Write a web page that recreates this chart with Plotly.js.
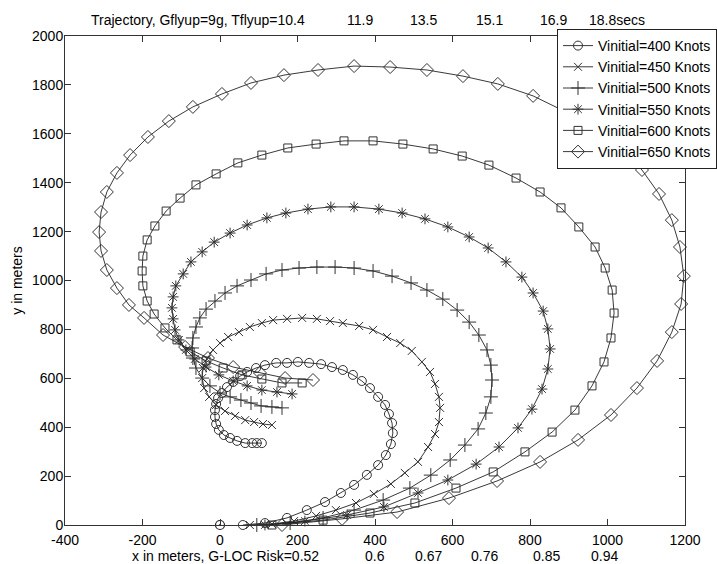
<!DOCTYPE html>
<html>
<head>
<meta charset="utf-8">
<script src="https://cdn.plot.ly/plotly-3.0.1.min.js"></script>
<style>html,body{margin:0;padding:0;background:#fff;}#chart{width:717px;height:564px;}</style>
</head>
<body>
<div id="chart"></div>
<script>
// ---- data ----
const seriesNames = ['Vinitial=400 Knots','Vinitial=450 Knots','Vinitial=500 Knots','Vinitial=550 Knots','Vinitial=600 Knots','Vinitial=650 Knots'];

const x400 = [59,116,173,224,271,312,346,379,408,428,441,446,444,436,426,408,387,366,343,317,289,261,230,201,173,145,116,93,70,52,34,18,5,-5,-10,-13,-13,-10,-3,10,26,44,65,83,95,108];
const y400 = [0,8,29,61,94,131,164,205,245,286,331,376,417,454,491,524,560,589,614,634,646,658,663,667,663,663,654,642,626,609,585,564,540,519,495,470,442,413,389,368,356,344,335,335,335,335];

const x450 = [77,134,191,248,299,351,397,441,477,511,537,555,565,568,565,555,542,521,495,465,431,395,359,317,284,250,212,173,137,108,77,49,21,0,-18,-34,-44,-46,-41,-28,-10,13,39,65,88,111,134];
const y450 = [0,4,16,37,61,90,127,168,213,258,319,372,421,479,524,577,626,667,712,744,769,798,814,826,834,843,847,843,838,826,810,789,769,744,716,679,642,601,560,524,491,466,446,429,421,413,409];

const x500 = [95,181,266,346,421,490,544,594,632,666,686,699,702,699,689,668,643,612,575,534,493,444,395,346,297,250,204,160,119,80,44,13,-13,-36,-52,-62,-70,-72,-70,-62,-46,-26,0,26,54,80,106,134,160];
const y500 = [0,8,29,61,102,151,204,266,327,393,458,524,593,654,716,777,830,879,924,961,990,1018,1039,1051,1055,1055,1051,1043,1027,1002,978,949,916,883,847,810,765,724,683,642,601,569,540,524,511,499,487,483,479];

const x550 = [116,219,328,423,511,588,661,720,769,805,831,846,852,846,834,808,779,738,692,643,588,529,470,410,346,286,227,170,121,70,26,-15,-46,-75,-95,-114,-121,-124,-121,-116,-106,-88,-65,-36,-3,34,70,108,147,186];
const y550 = [0,16,41,74,131,184,249,319,397,474,556,638,720,802,875,949,1014,1076,1133,1178,1219,1252,1276,1292,1301,1301,1292,1276,1256,1227,1194,1157,1117,1076,1027,978,933,888,843,798,757,716,679,646,614,589,569,552,544,536];

const x600 = [134,266,387,503,609,705,787,857,916,960,991,1009,1017,1012,994,968,926,880,826,764,694,625,550,472,395,320,248,175,108,46,-10,-62,-103,-139,-168,-188,-199,-201,-199,-188,-170,-142,-111,-77,-36,8,57,108,160,212];
const y600 = [0,20,49,90,151,217,299,380,470,569,667,765,867,961,1051,1137,1219,1297,1362,1419,1472,1509,1538,1558,1571,1571,1558,1542,1513,1481,1436,1391,1337,1284,1223,1166,1100,1039,978,916,863,806,757,708,671,642,614,597,581,581];

const x650 = [160,315,457,591,715,826,924,1009,1076,1128,1166,1190,1197,1187,1166,1133,1089,1030,963,888,808,717,627,534,439,346,253,165,80,5,-70,-132,-186,-232,-266,-292,-307,-312,-307,-292,-266,-235,-196,-147,-90,-31,34,103,168,240];
const y650 = [0,25,53,110,180,258,348,450,560,671,789,904,1018,1137,1247,1354,1452,1542,1624,1693,1755,1804,1836,1861,1873,1877,1861,1840,1808,1763,1710,1652,1587,1513,1440,1362,1280,1198,1121,1043,969,900,847,777,728,683,646,622,601,593];

const xOrigin = [0];
const yOrigin = [0];

const xTickVals = [-400,-200,0,200,400,600,800,1000,1200];
const xTickText = ['-400','-200','0','200','400','600','800','1000','1200'];
const yTickVals = [0,200,400,600,800,1000,1200,1400,1600,1800,2000];
const yTickText = ['0','200','400','600','800','1000','1200','1400','1600','1800','2000'];

const titleParts = ['Trajectory, Gflyup=9g, Tflyup=10.4','11.9','13.5','15.1','16.9','18.8secs'];
const xLabelParts = ['x in meters, G-LOC Risk=0.52','0.6','0.67','0.76','0.85','0.94'];
const yLabel = 'y in meters';

// ---- styling / layout ----
const FONT = 'Liberation Sans, Arial, Helvetica, sans-serif';
const W = 717, H = 564, L = 65, R = 685, T = 36, B = 525;
const pxX = p => (p - L) / (R - L);
const pxY = p => (B - p) / (B - T);

const xs = [x400,x450,x500,x550,x600,x650];
const ys = [y400,y450,y500,y550,y600,y650];
const symbols = ['circle-open','x-thin-open','cross-thin-open','asterisk-open','square-open','diamond-open'];
const sizes = [9,8,10,9,8,10];

const traces = xs.map((xv,i)=>({
  type:'scatter', mode:'lines+markers', x:xv, y:ys[i], name:seriesNames[i],
  cliponaxis:false,
  line:{color:'#222', width:0.9},
  marker:{symbol:symbols[i], size:sizes[i], color:'#333', line:{color:'#333', width:1}}
}));
traces.push({
  type:'scatter', mode:'markers', x:xOrigin, y:yOrigin, showlegend:false, cliponaxis:false,
  marker:{symbol:'circle-open-dot', size:9, color:'#222', line:{color:'#222', width:1.2}}
});

const titleCenters = [[89,'left'],[360,'center'],[424,'center'],[489,'center'],[553,'center'],[587,'left']];
const xLabCenters = [[130,'left'],[375,'center'],[429,'center'],[484,'center'],[546,'center'],[604,'center']];
const annotations = [];
titleParts.forEach((t,i)=>annotations.push({text:t, xref:'paper', yref:'paper', x:pxX(titleCenters[i][0]), xanchor:titleCenters[i][1], y:pxY(20), yanchor:'middle', showarrow:false, font:{family:FONT,size:14,color:'#000'}}));
xLabelParts.forEach((t,i)=>annotations.push({text:t, xref:'paper', yref:'paper', x:pxX(xLabCenters[i][0]), xanchor:xLabCenters[i][1], y:pxY(556), yanchor:'middle', showarrow:false, font:{family:FONT,size:14,color:'#000'}}));

const axisCommon = {
  showgrid:false, zeroline:false, showline:true, linecolor:'#333', linewidth:1,
  mirror:'ticks', ticks:'inside', ticklen:6, tickcolor:'#333', tickwidth:1,
  tickfont:{family:FONT,size:14,color:'#000'}
};

const layout = {
  width:W, height:H,
  margin:{l:L, r:W-R, t:T, b:H-B, pad:0, autoexpand:false},
  paper_bgcolor:'#fff', plot_bgcolor:'#fff',
  font:{family:FONT,size:14,color:'#000'},
  showlegend:true,
  legend:{x:pxX(557), xanchor:'left', y:pxY(29), yanchor:'top', bgcolor:'#fff', bordercolor:'#222', borderwidth:1, font:{family:FONT,size:14,color:'#000'}},
  xaxis:Object.assign({}, axisCommon, {range:[-400,1200], tickmode:'array', tickvals:xTickVals, ticktext:xTickText, ticklabelstandoff:2}),
  yaxis:Object.assign({}, axisCommon, {range:[0,2000], tickmode:'array', tickvals:yTickVals, ticktext:yTickText, ticklabelstandoff:-2,
    title:{text:yLabel, font:{family:FONT,size:14,color:'#000'}, standoff:6}}),
  annotations:annotations
};

Plotly.newPlot('chart', traces, layout, {staticPlot:true, displayModeBar:false});
</script>
</body>
</html>
